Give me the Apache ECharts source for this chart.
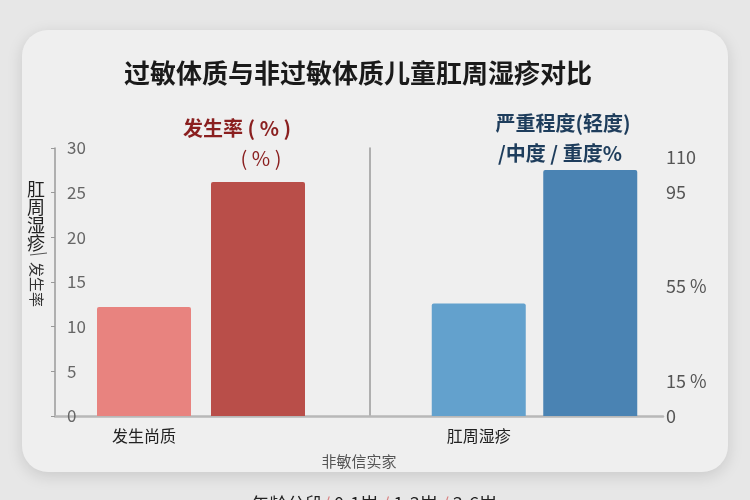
<!DOCTYPE html>
<html>
<head>
<meta charset="utf-8">
<script src="https://cdn.jsdelivr.net/npm/echarts@6/dist/echarts.min.js"></script>
<style>
html,body{margin:0;padding:0;background:#e7e7e7;}
#c{width:750px;height:500px;}
</style>
</head>
<body>
<div id="c"></div>
<script>
// ---- data ----
const chartTitle = '过敏体质与非过敏体质儿童肛周湿疹对比';
const leftSubtitle = ['发生率 ( % )', '( % )'];
const rightSubtitle = ['严重程度(轻度)', '/中度 / 重度%'];
const categoriesLeft = ['发生尚质', '非过敏体质'];
const categoriesRight = ['肛周湿疹', '非过敏体质'];
const incidence = [12.2, 26.2];          // 发生率 (%)
const severity = [47.8, 104.5];          // 严重程度
const leftTicks = [0, 30, 5];            // min, max, interval
const rightTicks = [0, 110, 5];          // min, max, interval
const rightShownTicks = {0: '0', 15: '15 %', 55: '55 %', 95: '95', 110: '110'};
const xAxisName = '非敏信实家';
const ageGroups = ['年龄分段', '0-1岁', '1-3岁', '3-6岁'];

const FONT = '"Noto Sans CJK SC", "Noto Sans", sans-serif';
const redColors = ['#e8837f', '#b94e49'];
const blueColors = ['#63a1cd', '#4a83b3'];

const chart = echarts.init(document.getElementById('c'));
chart.setOption({
  backgroundColor: '#e7e7e7',
  textStyle: {fontFamily: FONT},
  animation: false,
  title: [
    {text: chartTitle, left: 353, top: 55, textAlign: 'center',
     textStyle: {fontFamily: FONT, fontSize: 26, fontWeight: 'bold', color: '#1a1a1a'}},
    {text: leftSubtitle[0], left: 232, top: 113, textAlign: 'center',
     textStyle: {fontFamily: FONT, fontSize: 20, fontWeight: 'bold', color: '#8a1f1f'}},
    {text: leftSubtitle[1], left: 256, top: 143, textAlign: 'center',
     textStyle: {fontFamily: FONT, fontSize: 20, fontWeight: 'normal', color: '#8a1f1f'}},
    {text: rightSubtitle[0], left: 558, top: 108, textAlign: 'center',
     textStyle: {fontFamily: FONT, fontSize: 20, fontWeight: 'bold', color: '#1e3d5c'}},
    {text: rightSubtitle[1], left: 555, top: 138, textAlign: 'center',
     textStyle: {fontFamily: FONT, fontSize: 20, fontWeight: 'bold', color: '#1e3d5c'}},
    {text: ageGroups.map((g, i) => i === 0 ? '{t|' + g + '}' : '{s|/}{t| ' + g + ' }').join(''),
     left: 371, top: 490, textAlign: 'center',
     textStyle: {fontFamily: FONT, fontSize: 18, fontWeight: 'normal', color: '#222',
       rich: {t: {fontFamily: FONT, fontSize: 18, color: '#222'},
              s: {fontFamily: FONT, fontSize: 18, color: '#d98080'}}}}
  ],
  graphic: [
    {type: 'rect', z: -100, silent: true,
     shape: {x: 22, y: 30, width: 706, height: 442, r: 26},
     style: {fill: '#efefef', shadowBlur: 16, shadowOffsetY: 4, shadowColor: 'rgba(0,0,0,0.13)'}},
    {type: 'text', left: 27, top: 180, silent: true,
     style: {text: '肛\n周\n湿\n疹', font: '18px ' + FONT, fill: '#222', lineHeight: 18}},
    {type: 'line', silent: true, shape: {x1: 30, y1: 255, x2: 47, y2: 253},
     style: {stroke: '#555', lineWidth: 1}},
    {type: 'text', x: 44, y: 262, rotation: -Math.PI / 2, silent: true,
     style: {text: '发生率', font: '15px ' + FONT, fill: '#333'}}
  ],
  grid: [
    {left: 87, width: 228, top: 148, bottom: 84},
    {left: 423, width: 223, top: 157, bottom: 84},
    {left: 55, right: 87, top: 148, bottom: 84}
  ],
  xAxis: [
    {type: 'category', gridIndex: 0, data: categoriesLeft,
     axisLine: {show: false}, axisTick: {show: false},
     axisLabel: {interval: 1, margin: 12, fontSize: 16, color: '#222', fontFamily: FONT}},
    {type: 'category', gridIndex: 1, data: categoriesRight,
     axisLine: {show: false}, axisTick: {show: false},
     axisLabel: {interval: 1, margin: 12, fontSize: 16, color: '#222', fontFamily: FONT}},
    {type: 'category', gridIndex: 2, data: [''],
     axisLine: {show: true, lineStyle: {color: '#b8b8b8', width: 2.5}},
     axisTick: {show: false}, axisLabel: {show: false},
     name: xAxisName, nameLocation: 'middle', nameGap: 38,
     nameTextStyle: {fontSize: 15, color: '#555', fontFamily: FONT}}
  ],
  yAxis: [
    {type: 'value', gridIndex: 0, position: 'left', offset: 32,
     min: leftTicks[0], max: leftTicks[1], interval: leftTicks[2],
     axisLine: {show: true, lineStyle: {color: '#9a9a9a', width: 1.5}},
     axisTick: {show: true, length: 4, lineStyle: {color: '#999'}},
     axisLabel: {inside: true, margin: 12, fontSize: 17, color: '#666', fontFamily: FONT},
     splitLine: {show: false}},
    {type: 'value', gridIndex: 0, position: 'right', offset: 55,
     min: leftTicks[0], max: leftTicks[1], interval: leftTicks[2],
     axisLine: {show: true, lineStyle: {color: '#9a9a9a', width: 1.5}},
     axisTick: {show: false}, axisLabel: {show: false}, splitLine: {show: false}},
    {type: 'value', gridIndex: 1, position: 'right', offset: 12,
     min: rightTicks[0], max: rightTicks[1], interval: rightTicks[2],
     axisLine: {show: false}, axisTick: {show: false}, splitLine: {show: false},
     axisLabel: {margin: 8, fontSize: 18, color: '#555', fontFamily: FONT,
       formatter: v => (rightShownTicks[v] !== undefined ? rightShownTicks[v] : '')}},
    {type: 'value', gridIndex: 2, show: false}
  ],
  series: [
    {type: 'bar', xAxisIndex: 0, yAxisIndex: 0, barWidth: 94,
     data: incidence.map((v, i) => ({value: v, itemStyle: {color: redColors[i]}})),
     itemStyle: {borderRadius: [2, 2, 0, 0]}},
    {type: 'bar', xAxisIndex: 1, yAxisIndex: 2, barWidth: 94,
     data: severity.map((v, i) => ({value: v, itemStyle: {color: blueColors[i]}})),
     itemStyle: {borderRadius: [2, 2, 0, 0]}}
  ]
});
</script>
</body>
</html>
